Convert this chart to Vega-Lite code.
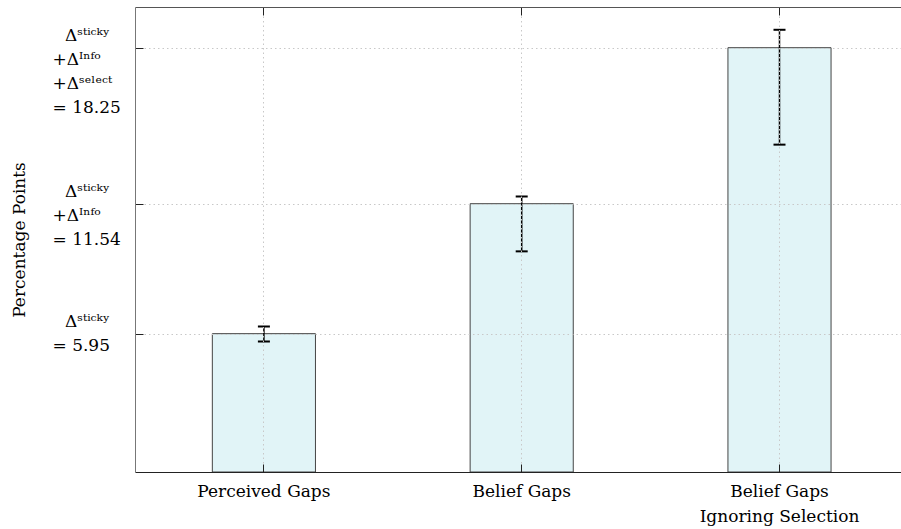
{
  "$schema": "https://vega.github.io/schema/vega-lite/v6.json",
  "width": 766,
  "height": 465,
  "autosize": {"type": "none"},
  "padding": {"left": 135, "top": 7, "right": 0, "bottom": 57},
  "background": "white",
  "config": {
    "view": {"stroke": null},
    "font": "DejaVu Serif",
    "axis": {
      "labelFont": "DejaVu Serif",
      "titleFont": "DejaVu Serif",
      "labelFontSize": 17,
      "titleFontSize": 17,
      "titleFontWeight": "normal",
      "labelColor": "#000",
      "titleColor": "#000"
    }
  },
  "data": {
    "values": [
      {"group": "Perceived Gaps", "value": 5.95, "lo": 5.61, "hi": 6.26},
      {"group": "Belief Gaps", "value": 11.54, "lo": 9.49, "hi": 11.85},
      {"group": "Belief Gaps Ignoring Selection", "value": 18.25, "lo": 14.08, "hi": 19.02}
    ]
  },
  "resolve": {"axis": {"x": "independent"}},
  "layer": [
    {
      "mark": {"type": "bar", "fill": "#e1f4f7", "stroke": "#444", "strokeWidth": 1},
      "encoding": {
        "x": {
          "field": "group", "type": "nominal", "sort": null,
          "scale": {"range": [0, 773.4], "paddingInner": 0.6, "paddingOuter": 0.3},
          "axis": {
            "orient": "bottom", "title": null, "labelAngle": 0, "bandPosition": 0.5,
            "tickSize": -8, "tickColor": "#222", "domainColor": "#222",
            "labelPadding": 19, "labelBaseline": "top", "labelLineHeight": 25,
            "labelExpr": "datum.value == 'Belief Gaps Ignoring Selection' ? ['Belief Gaps', 'Ignoring Selection'] : datum.label",
            "grid": true, "gridColor": "#c8c8c8", "gridDash": [1.5, 3], "zindex": 1
          }
        },
        "y": {
          "field": "value", "type": "quantitative",
          "scale": {"domain": [0, 20], "nice": false, "zero": true},
          "axis": {
            "title": "Percentage Points", "titlePadding": 24,
            "values": [5.95, 11.54, 18.25],
            "tickSize": -8, "tickColor": "#222", "domainColor": "#777",
            "labelAlign": "left", "labelPadding": 91, "labelBaseline": "alphabetic",
            "labelOffset": -7, "labelLineHeight": 24, "labelOverlap": false, "labelFlush": false,
            "labelExpr": "datum.value < 8 ? ['\u2800Δˢᵗⁱᶜᵏʸ', '= 5.95'] : datum.value < 15 ? ['\u2800Δˢᵗⁱᶜᵏʸ', '+Δᴵⁿᶠᵒ', '= 11.54'] : ['\u2800Δˢᵗⁱᶜᵏʸ', '+Δᴵⁿᶠᵒ', '+Δˢᵉˡᵉᶜᵗ', '= 18.25']",
            "grid": true, "gridColor": "#c8c8c8", "gridDash": [1.5, 3], "zindex": 1
          }
        }
      }
    },
    {
      "mark": {"type": "rule", "color": "black", "strokeWidth": 1.5},
      "encoding": {
        "x": {
          "field": "group", "type": "nominal", "sort": null,
          "axis": {
            "orient": "top", "title": null, "labels": false, "grid": false, "bandPosition": 0.5,
            "tickSize": -8, "tickColor": "#222", "domainColor": "#555", "zindex": 1
          }
        },
        "y": {"field": "lo", "type": "quantitative", "title": "Percentage Points"},
        "y2": {"field": "hi"}
      }
    },
    {
      "mark": {"type": "tick", "color": "black", "thickness": 2, "size": 12, "opacity": 1},
      "encoding": {
        "x": {"field": "group", "type": "nominal", "sort": null, "axis": null},
        "y": {"field": "lo", "type": "quantitative", "title": "Percentage Points"}
      }
    },
    {
      "mark": {"type": "tick", "color": "black", "thickness": 2, "size": 12, "opacity": 1},
      "encoding": {
        "x": {"field": "group", "type": "nominal", "sort": null, "axis": null},
        "y": {"field": "hi", "type": "quantitative", "title": "Percentage Points"}
      }
    }
  ]
}
